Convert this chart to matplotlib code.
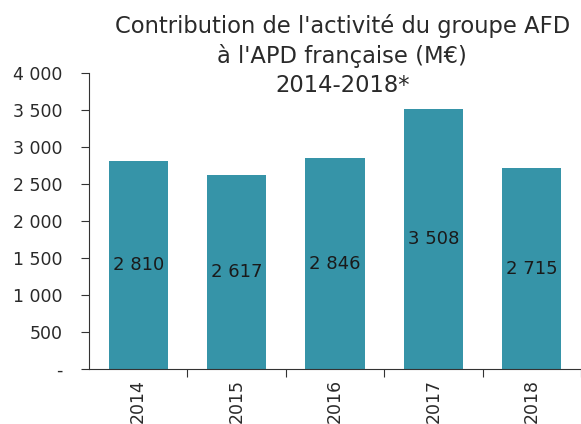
import matplotlib
matplotlib.use("Agg")
import matplotlib.pyplot as plt
from matplotlib.ticker import FuncFormatter

plt.rcParams['font.family'] = ['DejaVu Sans']

years = ["2014", "2015", "2016", "2017", "2018"]
values = [2810, 2617, 2846, 3508, 2715]
yticks = [0, 500, 1000, 1500, 2000, 2500, 3000, 3500, 4000]


def fmt(v, pos=None):
    if v == 0:
        return "-"
    return f"{int(v):,}".replace(",", " ")


fig = plt.figure(figsize=(5.81, 4.24), dpi=100)
ax = fig.add_axes([89 / 581, 1 - 369 / 424, 492 / 581, 296 / 424])

x = list(range(len(years)))
ax.bar(x, values, width=0.6, color="#3694a8")
for xi, v in zip(x, values):
    ax.text(xi, v / 2, fmt(v), ha="center", va="center", fontsize=13, color="#1a1a1a")

ax.set_xlim(-0.5, len(years) - 0.5)
ax.set_ylim(0, 4000)
ax.set_yticks(yticks)
ax.yaxis.set_major_formatter(FuncFormatter(fmt))
ax.tick_params(axis="y", labelsize=12.5, length=6, pad=13, color="#333333", labelcolor="#2a2a2a")

# boundary ticks between categories, labels at centres
ax.set_xticks([i + 0.5 for i in range(len(years))])
ax.set_xticklabels([])
ax.set_xticks(x, minor=True)
ax.set_xticklabels(years, minor=True, rotation=90, fontsize=12.5, color="#2a2a2a")
ax.tick_params(axis="x", which="major", length=6, color="#333333")
ax.tick_params(axis="x", which="minor", length=0, pad=7)

for s in ["top", "right"]:
    ax.spines[s].set_visible(False)
ax.spines["left"].set_color("#333333")
ax.spines["bottom"].set_color("#333333")

fig.text(0.589, 1 - 14 / 424, "Contribution de l'activité du groupe AFD\nà l'APD française (M€)\n2014-2018*",
         ha="center", va="top", fontsize=16.3, color="#2a2a2a", linespacing=1.33)

fig.savefig("out.png", dpi=100)
